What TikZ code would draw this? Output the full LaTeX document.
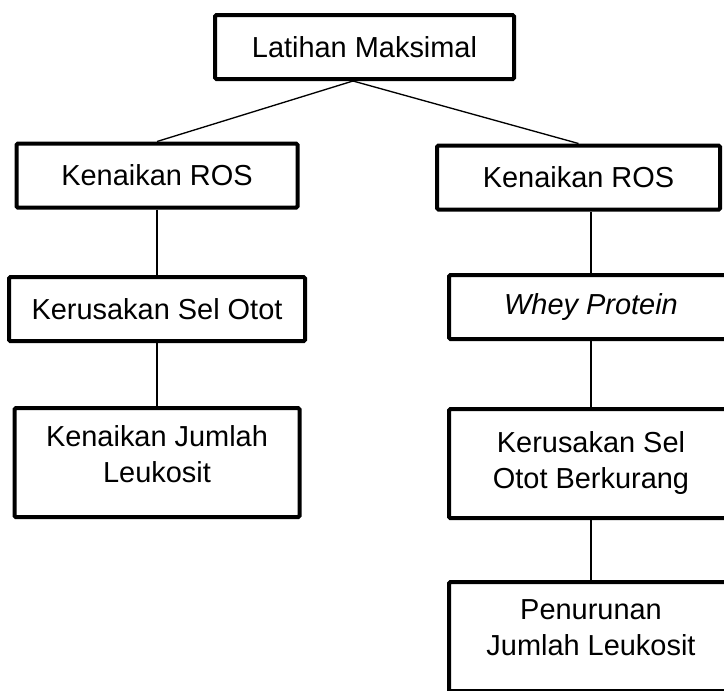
\documentclass[tikz,border=0pt]{standalone}
\usepackage{fontspec}
\setmainfont{Liberation Sans}
\usetikzlibrary{calc}

\begin{document}
\begin{tikzpicture}[x=0.75pt, y=-0.75pt, every node/.style={font=\fontsize{21.7pt}{27pt}\selectfont, align=center}]
\tikzset{
  box/.style={draw, line width=3pt, rounded corners=1pt, fill=white, inner sep=0pt, minimum height=48pt},
  tallbox/.style={box, minimum height=81.75pt},
  link/.style={line width=1pt}
}
  \useasboundingbox (0,0) rectangle (724,690);
  \clip (0,0) rectangle (724,690);
  \node[box, minimum width=224.25pt] (latihan) at (364.5,47) {Latihan Maksimal};
  % left branch
  \node[box, minimum width=210.75pt] (ros1) at (157,175.5) {Kenaikan ROS};
  \node[box, minimum width=222pt] (otot1) at (157,309) {Kerusakan Sel Otot};
  \node[tallbox, minimum width=213.75pt] (leuko1) at (157,462.5)
    {Kenaikan Jumlah\\Leukosit\\[-14pt]\mbox{}};
  % right branch
  \node[box, minimum width=212.25pt] (ros2) at (578.5,177.5) {Kenaikan ROS};
  \node[box, minimum width=213pt] (whey) at (591,307) {\textit{Whey Protein}};
  \node[tallbox, minimum width=213pt] (otot2) at (591,463.5)
    {Kerusakan Sel\\Otot Berkurang};
  \node[tallbox, minimum width=213pt] (leuko2) at (591,636.5)
    {Penurunan\\Jumlah Leukosit\\[-14pt]\mbox{}};
  \coordinate (fork) at ($(latihan.south)+(-11.5,0)$);
  \draw[link] (fork) -- (ros1.north);
  \draw[link] (fork) -- (ros2.north);
  \draw[link] (ros1) -- (otot1);
  \draw[link] (otot1) -- (leuko1);
  \draw[link] (ros2.south -| whey.north) -- (whey.north);
  \draw[link] (whey) -- (otot2);
  \draw[link] (otot2) -- (leuko2);
\end{tikzpicture}
\end{document}
